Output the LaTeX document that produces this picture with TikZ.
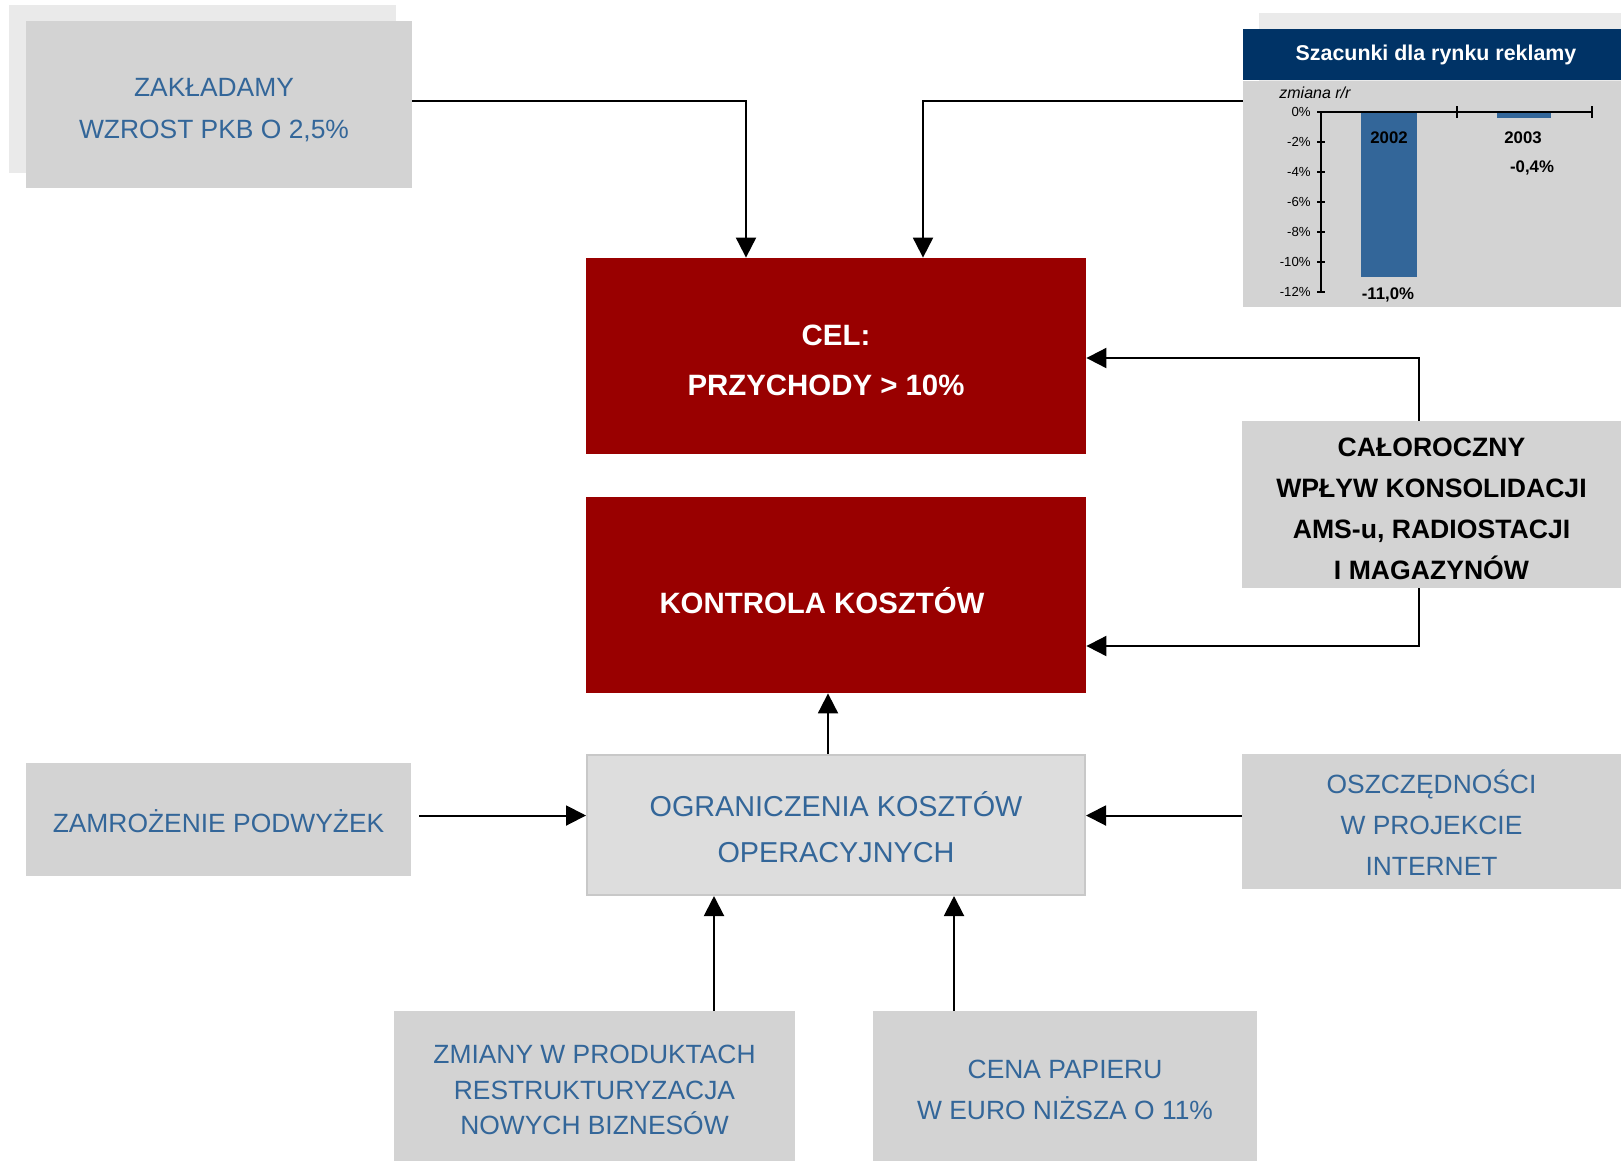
\documentclass[tikz,border=0pt]{standalone}
\usepackage{fontspec}
\setmainfont{Liberation Sans}
\usetikzlibrary{arrows.meta,positioning}
\definecolor{boxgray}{HTML}{D3D3D3}
\definecolor{lightgray}{HTML}{DDDDDD}
\definecolor{linegray}{HTML}{C8C8C8}
\definecolor{shadowgray}{HTML}{EAEAEA}
\definecolor{textblue}{HTML}{336699}
\definecolor{goalred}{HTML}{990000}
\definecolor{headblue}{HTML}{003366}
\tikzset{
        box/.style={rectangle, align=flush center, inner sep=0pt,
            execute at begin node={\rule{0pt}{1.2em}},
            execute at end node={\rule[-0.2em]{0pt}{0.2em}}},
        % Gray input boxes
        box_input/.style={box, fill=boxgray, text=textblue, font=\fontsize{13.2}{21}\selectfont},
        % Red goal boxes
        box_goal/.style={box, fill=goalred, text=white, text width=250pt, minimum height=98pt, font=\bfseries\fontsize{14.7}{25}\selectfont},
        % Bold black box
        box_bold/.style={box, fill=boxgray, text=black, font=\bfseries\fontsize{13.3}{20.5}\selectfont},
        % Middle box
        box_mid/.style={box, fill=lightgray, draw=linegray, line width=1pt, text=textblue, font=\fontsize{14.4}{23}\selectfont},
        % Chart parts
        chart_head/.style={rectangle, inner sep=0pt, fill=headblue, text=white, font=\bfseries\fontsize{10.7}{12}\selectfont},
        chart_body/.style={rectangle, inner sep=0pt, fill=boxgray},
        chart_tick/.style={inner sep=0pt, anchor=east, font=\fontsize{6.6}{8}\selectfont},
        chart_label/.style={inner sep=0pt, font=\bfseries\fontsize{8.4}{10}\selectfont}
}
\begin{document}
\begin{tikzpicture}[
            x=0.5pt, y=-0.5pt,
            >={Triangle[length=10pt,width=10pt]},
            link/.style={->, line width=1pt}
        ]
            \useasboundingbox (0,0) rectangle (1621,1162);
            % left top box with its shadow
            \fill[shadowgray] (9,5) rectangle (396,173);
            \node[box_input, text width=193pt, minimum height=83.5pt] (zak) at (219,104.5) {ZAKŁADAMY\kern5pt\\WZROST PKB O 2,5\%\hspace*{5pt}};
            % chart
            \fill[shadowgray] (1259,13) rectangle (1621,290);
            \node[chart_head, minimum width=189pt, minimum height=25.5pt] (head) at (1432,54.5) {\hspace*{4pt}Szacunki dla rynku reklamy};
            \node[chart_body, minimum width=189pt, minimum height=113pt, below=0pt of head] (body) {};
            \node[inner sep=0pt, anchor=west, font=\itshape\fontsize{8}{10}\selectfont] (note) at (1279,93) {zmiana r/r};
            \fill[textblue] (1361,112) rectangle (1417,277);
            \fill[textblue] (1497,112) rectangle (1551,118);
            \draw[line width=0.6pt] (1321,112) -- (1321,292);
            \draw[line width=0.6pt] (1321,112) -- (1592,112);
            \foreach \v [count=\i] in {0,-2,-4,-6,-8,-10,-12} {
                \draw[line width=0.6pt] (1317,112-15*\v) -- (1325,112-15*\v);
                \node[chart_tick] (tick\i) at (1311,112-15*\v) {\v\%};
            }
            \foreach \x in {1457,1592}
                \draw[line width=0.6pt] (\x,106) -- (\x,118);
            \node[chart_label] (y2002) at (1389,138) {2002};
            \node[chart_label] (y2003) at (1523,138) {2003};
            \node[chart_label] (v2003) at (1532,168) {-0,4\%};
            \node[chart_label] (v2002) at (1388,295) {-11,0\%};
            % goal boxes
            \node[box_goal] (cel) at (836,356) {CEL:\\PRZYCHODY > 10\%\hspace*{10pt}};
            \node[box_goal, execute at begin node={\rule{0pt}{1.45em}}] (kontrola) at (836,595) {KONTROLA KOSZTÓW\hspace*{14pt}};
            \node[box_bold, text width=189.5pt, minimum height=83.5pt] (calo) at (1431.5,504.5) {CAŁOROCZNY\\WPŁYW KONSOLIDACJI\\AMS-u, RADIOSTACJI\\I MAGAZYNÓW};
            % cost boxes
            \node[box_mid, text width=249pt, minimum height=70pt] (ogr) at (836,825) {OGRANICZENIA KOSZTÓW\\OPERACYJNYCH};
            \node[box_input, text width=192.5pt, minimum height=56.5pt] (zamr) at (218.5,819.5) {ZAMROŻENIE PODWYŻEK};
            \node[box_input, text width=189.5pt, minimum height=67.5pt, font=\fontsize{13.2}{20.5}\selectfont] (oszcz) at (1431.5,821.5) {OSZCZĘDNOŚCI\\W PROJEKCIE\\INTERNET};
            \node[box_input, text width=200.5pt, minimum height=75pt, font=\fontsize{13.2}{17.75}\selectfont] (zmiany) at (594.5,1086) {ZMIANY W PRODUKTACH\\RESTRUKTURYZACJA\\NOWYCH BIZNESÓW};
            \node[box_input, text width=192pt, minimum height=75pt, font=\fontsize{13.2}{20.5}\selectfont] (cena) at (1065,1086) {CENA PAPIERU\\W EURO NIŻSZA O 11\%};
            % connectors
            \draw[link] ([yshift=1.75pt]zak.east) -| ([xshift=-45pt]cel.north);
            \draw[link] ([yshift=-10.5pt]body.north west) -| ([xshift=43.5pt]cel.north);
            \draw[link] ([xshift=-6.25pt]calo.north) |- ([yshift=-1pt]cel.east);
            \draw[link] ([xshift=-6.25pt]calo.south) |- ([yshift=-25.5pt]kontrola.east);
            \draw[link] ([xshift=-4pt]ogr.north) -- ([xshift=-4pt]kontrola.south);
            \draw[link, shorten <=4pt] ([yshift=2pt]zamr.east) -- ([yshift=2pt]zamr.east -| ogr.west);
            \draw[link] ([yshift=3pt]oszcz.west) -- ([yshift=3pt]oszcz.west -| ogr.east);
            \draw[link] ([xshift=59.75pt]zmiany.north) -- ([xshift=59.75pt]zmiany.north |- ogr.south);
            \draw[link] ([xshift=-55.5pt]cena.north) -- ([xshift=-55.5pt]cena.north |- ogr.south);
        \end{tikzpicture}
\end{document}
